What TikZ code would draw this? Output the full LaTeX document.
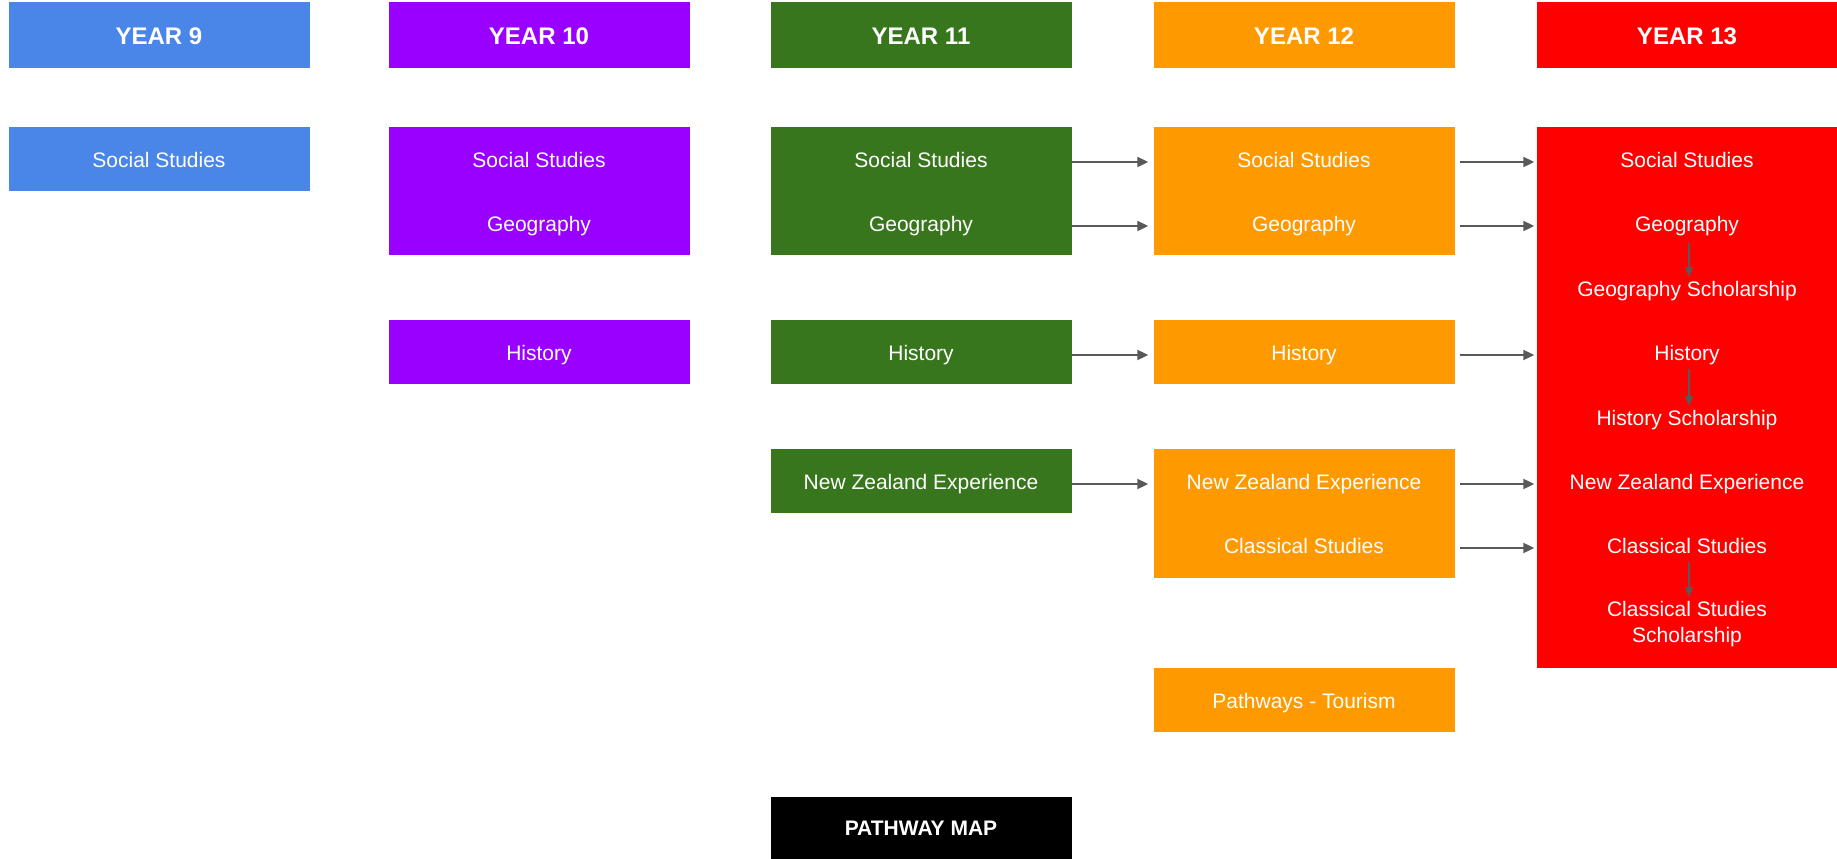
\documentclass[tikz,border=0pt]{standalone}
\usepackage{fontspec}
\setmainfont{Liberation Sans}
\usetikzlibrary{arrows.meta}
\definecolor{cyA}{HTML}{4A86E8}
\definecolor{cyB}{HTML}{9900FF}
\definecolor{cyC}{HTML}{38761D}
\definecolor{cyD}{HTML}{FF9900}
\definecolor{cyE}{HTML}{FF0000}
\definecolor{arrgray}{HTML}{595959}
\begin{document}
\begin{tikzpicture}[x=1pt,y=-1pt,
  box/.style={rectangle, inner sep=0pt, minimum width=301pt},
  hbox/.style={box, minimum height=66pt},
  htext/.style={inner sep=0pt, text=white, font=\fontsize{24}{28}\selectfont\bfseries, text height=17pt, text depth=0pt},
  item/.style={rectangle, inner sep=0pt, minimum width=301pt, text=white, align=center,
               font=\fontsize{21}{26}\selectfont, text height=15pt, text depth=4pt},
  arr/.style={draw=arrgray, line width=2pt, -{Triangle[length=11pt,width=10pt]}},
  varr/.style={draw=arrgray, line width=1.6pt, -{Triangle[length=10pt,width=8pt]}}
]
\useasboundingbox (0,0) rectangle (1837,859);

% headers
\node[hbox, fill=cyA] (h9)  at (159,35)  {};
\node[hbox, fill=cyB] (h10) at (539,35)  {};
\node[hbox, fill=cyC] (h11) at (921,35)  {};
\node[hbox, fill=cyD] (h12) at (1304,35) {};
\node[hbox, fill=cyE] (h13) at (1687,35) {};
\node[htext] (t9)  at (159,36)  {YEAR 9};
\node[htext] (t10) at (539,36)  {YEAR 10};
\node[htext] (t11) at (921,36)  {YEAR 11};
\node[htext] (t12) at (1304,36) {YEAR 12};
\node[htext] (t13) at (1687,36) {YEAR 13};

% boxes
\node[box, fill=cyA, minimum height=64pt]  (b9)   at (159,159)   {};
\node[box, fill=cyB, minimum height=128pt] (b10a) at (539,191)   {};
\node[box, fill=cyB, minimum height=64pt]  (b10b) at (539,352)   {};
\node[box, fill=cyC, minimum height=128pt] (b11a) at (921,191)   {};
\node[box, fill=cyC, minimum height=64pt]  (b11b) at (921,352)   {};
\node[box, fill=cyC, minimum height=64pt]  (b11c) at (921,481)   {};
\node[box, fill=cyD, minimum height=128pt] (b12a) at (1304,191)  {};
\node[box, fill=cyD, minimum height=64pt]  (b12b) at (1304,352)  {};
\node[box, fill=cyD, minimum height=129pt] (b12c) at (1304,513.5){};
\node[box, fill=cyD, minimum height=64pt]  (b12d) at (1304,700)  {};
\node[box, fill=cyE, minimum height=541pt] (b13)  at (1687,397.5){};
\node[box, fill=black, minimum height=62pt] (bmap) at (921,828)  {};

% texts
\node[item] (ss9)  at (159,162) {Social Studies};

\node[item] (ss10) at (539,162) {Social Studies};
\node[item] (ge10) at (539,226) {Geography};
\node[item] (hi10) at (539,355) {History};

\node[item] (ss11) at (921,162) {Social Studies};
\node[item] (ge11) at (921,226) {Geography};
\node[item] (hi11) at (921,355) {History};
\node[item] (nz11) at (921,484) {New Zealand Experience};

\node[item] (ss12) at (1304,162) {Social Studies};
\node[item] (ge12) at (1304,226) {Geography};
\node[item] (hi12) at (1304,355) {History};
\node[item] (nz12) at (1304,484) {New Zealand Experience};
\node[item] (cl12) at (1304,548) {Classical Studies};
\node[item] (pt12) at (1304,703) {Pathways - Tourism};

\node[item] (ss13) at (1687,162) {Social Studies};
\node[item] (ge13) at (1687,226) {Geography};
\node[item] (gs13) at (1687,291) {Geography Scholarship};
\node[item] (hi13) at (1687,355) {History};
\node[item] (hs13) at (1687,420) {History Scholarship};
\node[item] (nz13) at (1687,484) {New Zealand Experience};
\node[item] (cl13) at (1687,548) {Classical Studies};
\node[item, text height=41pt] (cs13) at (1687,624) {Classical Studies\\Scholarship};

\node[item, font=\fontsize{21}{26}\selectfont\bfseries] (map) at (921,830) {PATHWAY MAP};

% arrows Y11 -> Y12
\draw[arr, shorten >=5pt] (ss11.east) -- (ss12.west);
\draw[arr, shorten >=5pt] (ge11.east) -- (ge12.west);
\draw[arr, shorten >=5pt] (hi11.east) -- (hi12.west);
\draw[arr, shorten >=5pt] (nz11.east) -- (nz12.west);
% arrows Y12 -> Y13
\draw[arr, shorten <=5pt, shorten >=2pt] (ss12.east) -- (ss13.west);
\draw[arr, shorten <=5pt, shorten >=2pt] (ge12.east) -- (ge13.west);
\draw[arr, shorten <=5pt, shorten >=2pt] (hi12.east) -- (hi13.west);
\draw[arr, shorten <=5pt, shorten >=2pt] (nz12.east) -- (nz13.west);
\draw[arr, shorten <=5pt, shorten >=2pt] (cl12.east) -- (cl13.west);
% vertical arrows in Y13
\draw[varr] ([xshift=2pt,yshift=-17pt]ge13.center) -- ([xshift=2pt,yshift=14pt]gs13.center);
\draw[varr] ([xshift=2pt,yshift=-14pt]hi13.center) -- ([xshift=2pt,yshift=14pt]hs13.center);
\draw[varr] ([xshift=2pt,yshift=-14pt]cl13.center) -- ([xshift=2pt,yshift=27pt]cs13.center);
\end{tikzpicture}
\end{document}
